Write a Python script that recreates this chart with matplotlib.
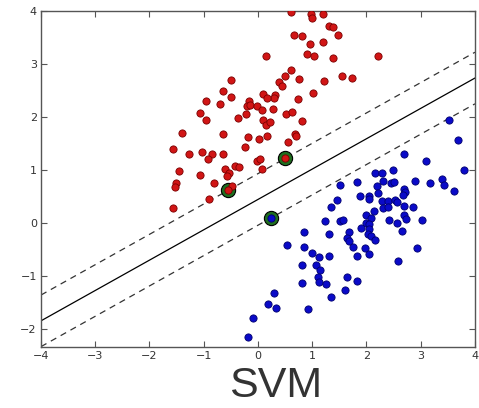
import numpy as np
import matplotlib
matplotlib.use("Agg")
import matplotlib.pyplot as plt

# red class (upper left)
red_x = [0.61, 0.98, 0.99, 1.20, 1.31, 1.39, 1.47, 0.67, 0.81, 0.96, 1.20, 0.90, 1.04, 1.38, 2.21,
         0.15, 0.61, 0.50, 0.76, 0.39, 0.45, 1.22, 1.55, 1.73, 0.31, 0.29, 0.73, 1.02, 0.10, 0.17,
         -0.50, -0.65, -0.50, -0.96, -0.70, -0.16, -0.20, -0.15, -0.02, 0.07, 0.27, -1.06, -0.95,
         -0.37, -0.22, 0.10, 0.15, 0.22, 0.52, 0.62, 0.81, -1.41, -0.65, -0.18, 0.01, 0.17, 0.68,
         0.70, 0.56, -0.24, -1.57, -1.28, -1.03, -0.84, -0.65, -0.93, -0.01, 0.03, 0.07, -1.45,
         -1.07, -0.61, -0.53, -0.58, -0.42, -0.35, -0.81, -1.52, -1.53, -0.47, -0.91, -1.57,
         -0.55, 0.50]
red_y = [3.98, 3.94, 3.86, 3.94, 3.72, 3.70, 3.55, 3.55, 3.52, 3.38, 3.41, 3.19, 3.15, 3.12, 3.14,
         3.14, 2.88, 2.77, 2.72, 2.66, 2.59, 2.68, 2.78, 2.74, 2.42, 2.36, 2.34, 2.45, 2.43, 2.35,
         2.69, 2.49, 2.38, 2.31, 2.24, 2.31, 2.20, 2.22, 2.21, 2.13, 2.16, 2.08, 1.94,
         1.98, 2.06, 1.95, 1.85, 1.90, 2.05, 2.09, 1.92, 1.70, 1.68, 1.62, 1.59, 1.65, 1.68,
         1.64, 1.53, 1.43, 1.39, 1.31, 1.34, 1.31, 1.31, 1.21, 1.17, 1.21, 1.03, 0.98,
         0.91, 1.03, 0.95, 0.89, 1.08, 1.05, 0.76, 0.75, 0.69, 0.71, 0.46, 0.29,
         0.62, 1.22]

# blue class (lower right)
blue_x = [3.79, 2.16, 2.28, 2.48, 1.52, 1.83, 2.19, 2.30, 2.46, 2.51, 2.69, 2.71, 2.68, 2.89, 3.17,
          3.40, 3.43, 3.62, 1.88, 2.05, 2.05, 2.22, 1.45, 2.28, 2.40, 2.53, 2.56, 2.31, 2.40, 2.69,
          2.86, 1.34, 2.13, 1.99, 2.09, 2.70, 2.73, 2.42, 3.02, 1.24, 1.52, 1.57, 2.00, 2.05, 2.57,
          1.89, 2.04, 2.66, 0.85, 1.31, 1.67, 1.64, 1.68, 2.03, 2.08, 2.16, 0.53, 0.84, 1.76, 1.97,
          2.94, 0.99, 1.12, 1.30, 1.82, 2.05, 2.59, 0.82, 1.07, 1.14, 1.10, 1.13, 1.25, 0.81, 1.64,
          1.83, 1.60, 1.35, 0.30, 0.19, 0.34, 0.93, -0.09, -0.18, 3.53, 3.69, 2.70, 3.10, 0.24]
blue_y = [1.00, 0.94, 0.95, 1.00, 0.72, 0.78, 0.70, 0.80, 0.75, 0.77, 0.64, 0.58, 0.54, 0.79, 0.75,
          0.84, 0.72, 0.61, 0.52, 0.52, 0.46, 0.57, 0.44, 0.41, 0.42, 0.43, 0.40, 0.29, 0.31, 0.32,
          0.31, 0.30, 0.23, 0.16, 0.10, 0.16, 0.08, 0.06, 0.07, 0.04, 0.04, 0.07, 0.00, -0.01, 0.00,
          -0.09, -0.11, -0.15, -0.17, -0.21, -0.17, -0.28, -0.33, -0.21, -0.24, -0.31, -0.41, -0.45, -0.45, -0.46,
          -0.47, -0.56, -0.64, -0.62, -0.62, -0.58, -0.72, -0.78, -0.78, -0.88, -1.02, -1.10, -1.14, -1.13, -1.01,
          -1.08, -1.25, -1.39, -1.31, -1.52, -1.60, -1.62, -1.78, -2.14, 1.95, 1.57, 1.31, 1.17, 0.10]

# support vectors: two on the red side, one on the blue side
sv_x = [-0.55, 0.50, 0.24]
sv_y = [0.62, 1.22, 0.10]

xticks = [-4, -3, -2, -1, 0, 1, 2, 3, 4]
yticks = [-2, -1, 0, 1, 2, 3, 4]

# margin lines from the support vectors
a = (sv_y[1] - sv_y[0]) / (sv_x[1] - sv_x[0])
b_up = sv_y[0] - a * sv_x[0]
b_down = sv_y[2] - a * sv_x[2]
b_mid = (b_up + b_down) / 2
xx = np.linspace(-4, 4, 50)

fig = plt.figure(figsize=(4.79, 4.08), dpi=100)
ax = fig.add_axes([0.0856, 0.1495, 0.906, 0.824])

ax.plot(xx, a * xx + b_mid, 'k-', lw=0.9)
ax.plot(xx, a * xx + b_up, '--', lw=0.9, color='#333333', dashes=(5, 4))
ax.plot(xx, a * xx + b_down, '--', lw=0.9, color='#333333', dashes=(5, 4))

ax.scatter(sv_x, sv_y, s=105, facecolors='#1f6e1f', edgecolors='black', linewidths=0.8, zorder=3)
ax.scatter(red_x, red_y, s=27, c='#d11515', edgecolors='#7a0000', linewidths=0.6, zorder=4)
ax.scatter(blue_x, blue_y, s=27, c='#0a0ac8', edgecolors='#00006e', linewidths=0.6, zorder=4)

ax.set_xlim(-4, 4)
ax.set_ylim(-2.33, 4)
ax.set_xticks(xticks)
ax.set_yticks(yticks)
ax.set_xticklabels(['\u2212%d' % -t if t < 0 else str(t) for t in xticks])
ax.set_yticklabels(['\u2212%d' % -t if t < 0 else str(t) for t in yticks])
ax.tick_params(direction='in', top=True, right=True, length=4, width=0.8,
               color='#555555', labelsize=8, labelcolor='#333333', pad=3)
for s in ax.spines.values():
    s.set_color('#555555')
    s.set_linewidth(1.0)

fig.text(0.576, 2 / 408, 'SVM', ha='center', va='bottom', fontsize=31,
         family='Liberation Sans', color='#333333')

fig.savefig('out.png', dpi=100)
